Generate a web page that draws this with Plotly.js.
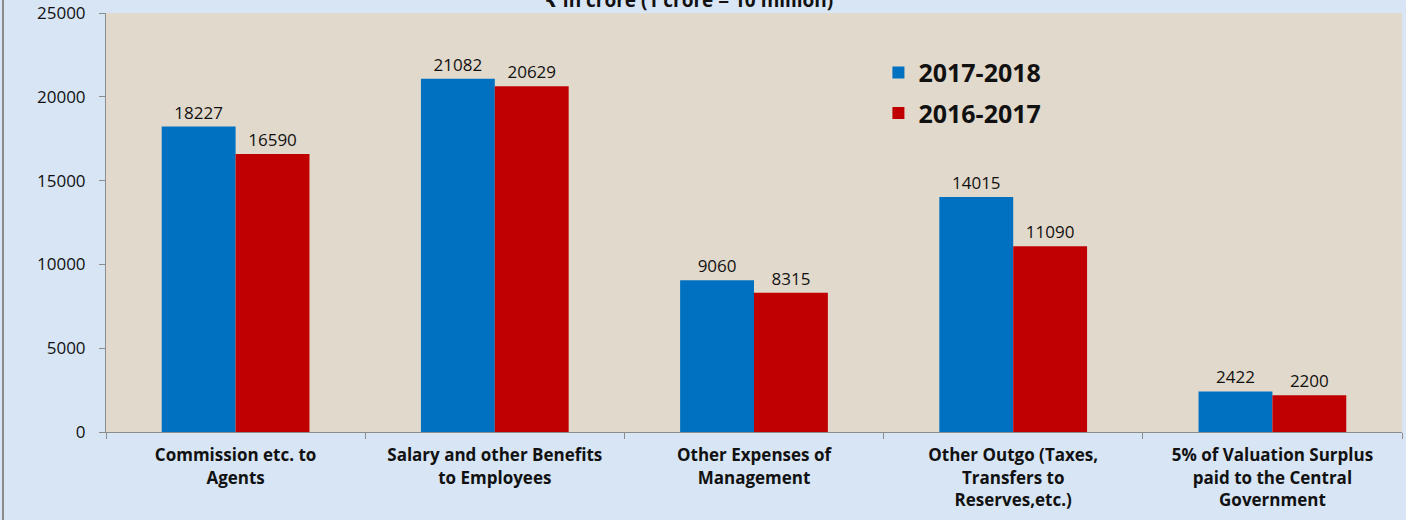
<!DOCTYPE html>
<html>
<head>
<meta charset="utf-8">
<script src="https://cdn.plot.ly/plotly-3.0.1.min.js"></script>
<style>
html,body{margin:0;padding:0;background:#d7e5f5;}
#chart{width:1406px;height:520px;}
</style>
</head>
<body>
<div id="chart"></div>
<script>
const categories = [
  "Commission etc. to<br>Agents",
  "Salary and other Benefits<br>to Employees",
  "Other Expenses of<br>Management",
  "Other Outgo (Taxes,<br>Transfers to<br>Reserves,etc.)",
  "5% of Valuation Surplus<br>paid to the Central<br>Government"
];
const values2017_18 = [18227, 21082, 9060, 14015, 2422];
const values2016_17 = [16590, 20629, 8315, 11090, 2200];
const seriesNames = ["2017-2018", "2016-2017"];
const titleText = "₹ in crore (1 crore = 10 million)";
const yTicks = [0, 5000, 10000, 15000, 20000, 25000];
const yTickText = ["0", "5000", "10000", "15000", "20000", "25000"];

const font = "Open Sans, DejaVu Sans, sans-serif";

const traces = [
  {
    type: "bar", name: seriesNames[0], x: categories, y: values2017_18,
    marker: {color: "#0070c0"},
    text: values2017_18.map(String), textposition: "outside",
    textfont: {family: font, size: 17, color: "#111"},
    cliponaxis: false, legendgroup: "a", hoverinfo: "y"
  },
  {
    type: "bar", name: seriesNames[1], x: categories, y: values2016_17,
    marker: {color: "#c00000"},
    text: values2016_17.map(String), textposition: "outside",
    textfont: {family: font, size: 17, color: "#111"},
    cliponaxis: false, legendgroup: "b", hoverinfo: "y"
  }
];

const layout = {
  width: 1406, height: 520,
  margin: {l: 106, r: 4, t: 13, b: 88},
  paper_bgcolor: "#d7e5f5",
  plot_bgcolor: "#e1d9cb",
  title: {
    text: "<b>" + titleText + "</b>",
    font: {family: font, size: 19, color: "#111"},
    x: 0.49, xref: "container", y: 1.0, yref: "container", yanchor: "middle"
  },
  barmode: "group",
  bargap: 0.43,
  bargroupgap: 0,
  showlegend: true,
  legend: {
    x: 0.596, y: 0.912, xanchor: "left", yanchor: "top",
    bgcolor: "rgba(0,0,0,0)",
    font: {family: font, size: 25, color: "#111", weight: "bold"},
    traceorder: "grouped", tracegroupgap: 5
  },
  xaxis: {
    tickfont: {family: font, size: 17, color: "#111", weight: "bold"},
    showline: true, linecolor: "#8c8c8c", linewidth: 1,
    ticks: "outside", ticklen: 6, tickcolor: "#8c8c8c", tickson: "boundaries",
    ticklabelstandoff: 8,
    showgrid: false, fixedrange: true
  },
  yaxis: {
    range: [0, 25000], tickvals: yTicks, ticktext: yTickText,
    tickfont: {family: font, size: 17, color: "#111"},
    showline: true, linecolor: "#8c8c8c", linewidth: 1,
    ticks: "outside", ticklen: 6, tickcolor: "#8c8c8c",
    ticklabelstandoff: 10,
    showgrid: false, zeroline: false, fixedrange: true
  },
  shapes: [
    {type: "line", xref: "paper", yref: "paper",
     x0: -103/1296, x1: -103/1296, y0: -88/419, y1: 1 + 13/419,
     line: {color: "#8a8a8a", width: 2}}
  ]
};

Plotly.newPlot("chart", traces, layout, {displayModeBar: false, staticPlot: true});
</script>
</body>
</html>
